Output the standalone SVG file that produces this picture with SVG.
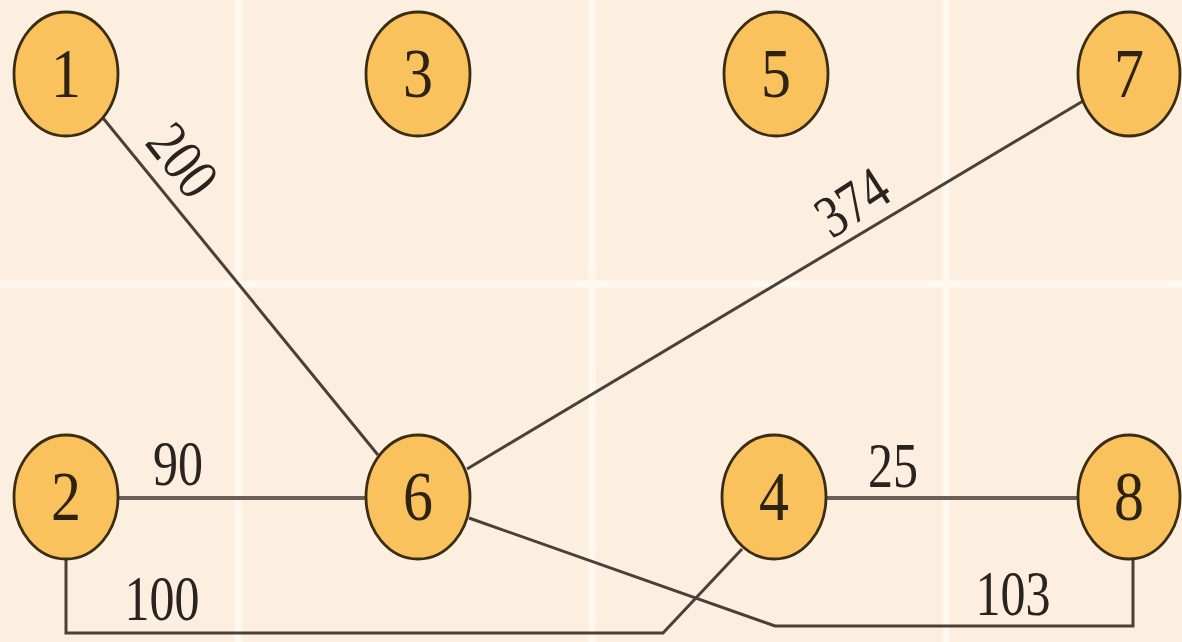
<svg xmlns="http://www.w3.org/2000/svg" width="1182" height="642" viewBox="0 0 1182 642">
  <style>
    .grid { stroke: #fff8ee; stroke-width: 7; }
    .node ellipse { fill: #f9c25c; stroke: #3b2c14; stroke-width: 2.8; }
    .node text { font-family: "Liberation Serif", "Times New Roman", serif; font-size: 60px; fill: #2e2210; text-anchor: middle; }
    .edge { fill: none; stroke: #4a4037; stroke-width: 3; }
    .edge.flat { stroke: #6a6057; stroke-width: 4; }
    .lbl { font-family: "Liberation Serif", "Times New Roman", serif; font-size: 50px; fill: #2a2420; text-anchor: middle; }
  </style>

  <!-- background with light grid -->
  <rect x="0" y="0" width="1182" height="642" fill="#fcefdf"/>
  <g id="grid">
    <line class="grid" x1="238" y1="0" x2="238" y2="642"/>
    <line class="grid" x1="592" y1="0" x2="592" y2="642"/>
    <line class="grid" x1="946" y1="0" x2="946" y2="642"/>
    <line class="grid" x1="0" y1="284" x2="1182" y2="284"/>
  </g>

  <!-- connectors -->
  <g id="connectors">
    <line class="edge" x1="103" y1="118" x2="378" y2="455"/>
    <line class="edge" x1="1083" y1="101" x2="467" y2="469"/>
    <line class="edge flat" x1="118" y1="498" x2="367" y2="498"/>
    <line class="edge flat" x1="826" y1="498" x2="1078" y2="498"/>
    <path class="edge" d="M66 560 V633 H663 L742 549"/>
    <path class="edge" d="M469 518 L775 626 H1133 V560"/>
  </g>

  <!-- edge weights -->
  <g id="labels">
    <text class="lbl" transform="translate(183,160) rotate(52) scale(1,1.2)" y="17">200</text>
    <text class="lbl" transform="translate(852,202) rotate(-33) scale(1,1.2)" y="17">374</text>
    <text class="lbl" transform="translate(178,485) scale(1,1.25)">90</text>
    <text class="lbl" transform="translate(893,487) scale(1,1.25)">25</text>
    <text class="lbl" transform="translate(162,620) scale(1,1.25)">100</text>
    <text class="lbl" transform="translate(1013,615) scale(1,1.25)">103</text>
  </g>

  <!-- nodes -->
  <g id="node1" class="node"><ellipse cx="66" cy="74" rx="52" ry="62"/><text transform="translate(66,97) scale(1,1.15)">1</text></g>
  <g id="node3" class="node"><ellipse cx="418" cy="74" rx="52" ry="62"/><text transform="translate(418,97) scale(1,1.15)">3</text></g>
  <g id="node5" class="node"><ellipse cx="776" cy="74" rx="52" ry="62"/><text transform="translate(776,97) scale(1,1.15)">5</text></g>
  <g id="node7" class="node"><ellipse cx="1129" cy="74" rx="51" ry="62"/><text transform="translate(1129,97) scale(1,1.15)">7</text></g>
  <g id="node2" class="node"><ellipse cx="66" cy="497" rx="52" ry="62"/><text transform="translate(66,520) scale(1,1.15)">2</text></g>
  <g id="node6" class="node"><ellipse cx="418" cy="497" rx="52" ry="62"/><text transform="translate(418,520) scale(1,1.15)">6</text></g>
  <g id="node4" class="node"><ellipse cx="774" cy="497" rx="52" ry="62"/><text transform="translate(774,520) scale(1,1.15)">4</text></g>
  <g id="node8" class="node"><ellipse cx="1129" cy="497" rx="51" ry="62"/><text transform="translate(1129,520) scale(1,1.15)">8</text></g>
</svg>
